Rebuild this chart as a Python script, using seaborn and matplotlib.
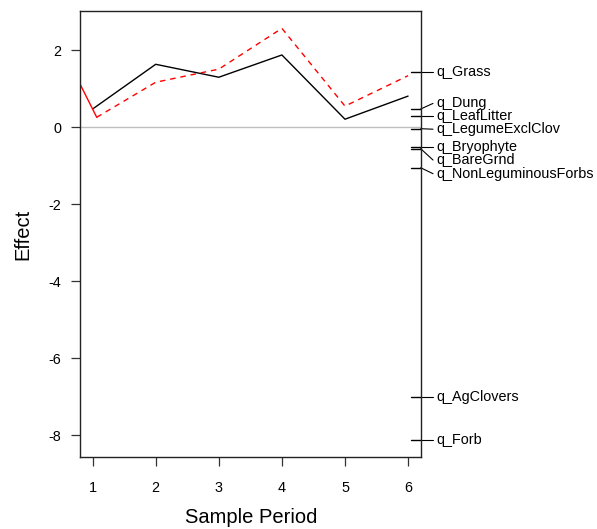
import matplotlib
matplotlib.use("Agg")
import matplotlib.pyplot as plt
import matplotlib.transforms as mtransforms
import numpy as np
import pandas as pd
import seaborn as sns

# Principal response curves: treatment effects by sample period
periods = [1, 2, 3, 4, 5, 6]
effect_trt1 = [0.475, 1.636, 1.30, 1.878, 0.21, 0.81]
effect_trt2_x = [1.065, 2, 3, 4, 5, 6]
effect_trt2 = [0.26, 1.17, 1.51, 2.57, 0.55, 1.34]
lead_x = [0.80, 1.065]
lead_y = [1.125, 0.26]

# Species weights shown on the right-hand axis
species = ["q_Grass", "q_Dung", "q_LeafLitter", "q_LegumeExclClov",
           "q_Bryophyte", "q_BareGrnd", "q_NonLeguminousForbs",
           "q_AgClovers", "q_Forb"]
species_score = [1.436, 0.475, 0.286, -0.036, -0.51, -0.556, -1.05, -7.01, -8.12]
label_pos = [1.436, 0.62, 0.286, -0.05, -0.51, -0.85, -1.205, -7.01, -8.12]

y_ticks = [-8, -6, -4, -2, 0, 2]

sns.set_style("ticks")
plt.rcParams["font.family"] = ["Liberation Sans", "DejaVu Sans"]
plt.rcParams["text.color"] = "black"
plt.rcParams["axes.labelcolor"] = "black"
plt.rcParams["xtick.labelcolor"] = "black"
plt.rcParams["ytick.labelcolor"] = "black"

fig = plt.figure(figsize=(5.97, 5.29), dpi=100)
W, H = 597, 529
ax = fig.add_axes([80 / W, (H - 457.3) / H, (420.7 - 80) / W, (457.3 - 11) / H])

df1 = pd.DataFrame({"period": periods, "effect": effect_trt1})
df2 = pd.DataFrame({"period": effect_trt2_x, "effect": effect_trt2})
dfl = pd.DataFrame({"period": lead_x, "effect": lead_y})

ax.axhline(0, color="#bebebe", lw=1.0, zorder=1)
sns.lineplot(data=df1, x="period", y="effect", color="black", lw=1.0,
             ax=ax, sort=False, estimator=None)
sns.lineplot(data=df2, x="period", y="effect", color="#ff0000", lw=1.0,
             linestyle=(0, (4, 3.5)), ax=ax, sort=False, estimator=None)
sns.lineplot(data=dfl, x="period", y="effect", color="#ff0000", lw=1.0,
             ax=ax, sort=False, estimator=None)

ax.set_xlim(0.8, 6.2)
ax.set_ylim(-8.57, 3.02)
ax.set_xticks(periods)
ax.set_yticks(y_ticks)
ax.set_yticklabels([str(t) for t in y_ticks])
ax.tick_params(axis="both", labelsize=10.4, length=6.3, width=0.9,
               color="#333333", labelcolor="black")
ax.tick_params(axis="x", pad=11)
ax.tick_params(axis="y", pad=7)
for side in ["left", "right", "top", "bottom"]:
    ax.spines[side].set_visible(True)
    ax.spines[side].set_linewidth(1.0)
    ax.spines[side].set_color("#222222")

ax.set_xlabel("Sample Period", fontsize=14.5, color="black")
ax.set_ylabel("Effect", fontsize=14.5, color="black")
ax.xaxis.set_label_coords(0.501, -0.113)
ax.yaxis.set_label_coords(-0.139, 0.5)

# species ticks, leader lines and names on the right axis
trans = mtransforms.blended_transform_factory(ax.transAxes, ax.transData)
w_ax = 420.7 - 80
tick_in = 9.7 / w_ax
lead_out = 12.3 / w_ax
text_off = 15.5 / w_ax
for name, s, lp in zip(species, species_score, label_pos):
    ax.plot([1 - tick_in, 1], [s, s], color="black", lw=1.0,
            transform=trans, clip_on=False)
    ax.plot([1, 1 + lead_out], [s, lp], color="black", lw=0.8,
            transform=trans, clip_on=False)
    ax.text(1 + text_off, lp, name, transform=trans, fontsize=10.4,
            ha="left", va="center", clip_on=False, color="black")

fig.savefig("out.png", dpi=100)
